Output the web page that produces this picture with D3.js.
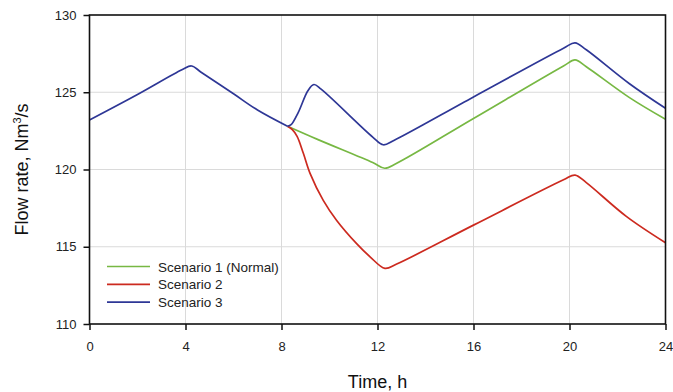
<!DOCTYPE html>
<html>
<head>
<meta charset="utf-8">
<script src="https://cdn.jsdelivr.net/npm/d3@7"></script>
<style>
  body { margin: 0; background: #fff; }
  text { font-family: "Liberation Sans", Arial, sans-serif; }
</style>
</head>
<body>
<svg id="chart" width="673" height="392"></svg>
<script>
// 数据
const xTicks = [0, 4, 8, 12, 16, 20, 24]
const yTicks = [110, 115, 120, 125, 130]

// 三个方案在 8.25 h 之前完全重合
const common_time  = [0, 2, 3.85, 4.25, 4.65, 6, 7, 8.25]
const common_value = [123.2, 124.85, 126.45, 126.7, 126.3, 124.9, 123.85, 122.8]

const s1_time  = [8.25, 9.5, 11.8, 12.3, 12.8, 16, 19.75, 20.23, 20.7, 22.5, 24]
const s1_value = [122.8, 121.95, 120.45, 120.08, 120.4, 123.3, 126.7, 127.09, 126.65, 124.65, 123.25]

const s2_time  = [8.25, 8.45, 8.65, 8.91, 9.19, 9.74, 10.3, 11.13, 11.69, 12.31, 12.8, 16, 19.75, 20.23, 20.7, 22.38, 24]
const s2_value = [122.8, 122.58, 122.15, 121.05, 119.75, 118.0, 116.7, 115.2, 114.35, 113.6, 113.88, 116.4, 119.33, 119.64, 119.15, 116.95, 115.26]

const s3_time  = [8.25, 8.4, 8.7, 9.1, 9.35, 9.65, 11.8, 12.24, 12.7, 16, 19.75, 20.23, 20.7, 22.5, 24]
const s3_value = [122.8, 122.9, 123.7, 125.1, 125.5, 125.2, 122.1, 121.6, 121.9, 124.7, 127.85, 128.2, 127.75, 125.55, 123.96]

const series_names = ["Scenario 1 (Normal)", "Scenario 2", "Scenario 3"]
const series_colors = ["#77b843", "#cc2a1f", "#2e3796"]

const toPoints = (ts, vs) => ts.map((t, i) => ({ t: t, v: vs[i] }))
const common = toPoints(common_time, common_value)
const branches = [
    toPoints(s1_time, s1_value),
    toPoints(s2_time, s2_value),
    toPoints(s3_time, s3_value)
]

const margin = { left: 89.5, right: 665.5, top: 15, bottom: 324 }

const svg = d3.select("#chart")

const x = d3.scaleLinear().domain([0, 24]).range([margin.left, margin.right])
const y = d3.scaleLinear().domain([110, 130]).range([margin.bottom, margin.top])

// 网格
svg.append("g").selectAll("line")
    .data(xTicks.slice(1, -1)).join("line")
    .attr("x1", d => x(d)).attr("x2", d => x(d))
    .attr("y1", margin.top).attr("y2", margin.bottom)
    .attr("stroke", "#dadada").attr("stroke-width", 1)
svg.append("g").selectAll("line")
    .data(yTicks.slice(1, -1)).join("line")
    .attr("x1", margin.left).attr("x2", margin.right)
    .attr("y1", d => y(d)).attr("y2", d => y(d))
    .attr("stroke", "#dadada").attr("stroke-width", 1)

// 曲线
const line = d3.line().x(d => x(d.t)).y(d => y(d.v)).curve(d3.curveCatmullRom.alpha(0.5))
branches.forEach((s, i) => {
    svg.append("path").datum(s)
        .attr("d", line)
        .attr("fill", "none")
        .attr("stroke", series_colors[i])
        .attr("stroke-width", 1.7)
})
// 公共段最后画，显示为最上层的方案3颜色
svg.append("path").datum(common)
    .attr("d", line)
    .attr("fill", "none")
    .attr("stroke", series_colors[2])
    .attr("stroke-width", 1.7)

// 坐标轴
const xAxis = svg.append("g")
    .attr("transform", `translate(0, ${margin.bottom})`)
    .call(d3.axisBottom(x).tickValues(xTicks).tickSizeOuter(0).tickSize(6).tickPadding(12))
const yAxis = svg.append("g")
    .attr("transform", `translate(${margin.left}, 0)`)
    .call(d3.axisLeft(y).tickValues(yTicks).tickSizeOuter(0).tickSize(6).tickPadding(7))
;[xAxis, yAxis].forEach(g => {
    g.select(".domain").remove()
    g.selectAll("line").attr("stroke", "#111").attr("stroke-width", 1.5)
    g.selectAll("text").attr("font-size", "13px").attr("fill", "#222")
        .style("font-family", "'Liberation Sans', Arial, sans-serif")
})

// 边框
svg.append("rect")
    .attr("x", margin.left).attr("y", margin.top)
    .attr("width", margin.right - margin.left).attr("height", margin.bottom - margin.top)
    .attr("fill", "none").attr("stroke", "#111").attr("stroke-width", 1.6)

// 标题
svg.append("text").text("Time, h")
    .attr("x", (margin.left + margin.right) / 2).attr("y", 388)
    .attr("text-anchor", "middle").attr("font-size", "18px").attr("fill", "#111")

const ylab = svg.append("text")
    .attr("transform", `translate(28, ${(margin.top + margin.bottom) / 2}) rotate(-90)`)
    .attr("text-anchor", "middle").attr("font-size", "18px").attr("fill", "#111")
ylab.append("tspan").text("Flow rate, Nm")
ylab.append("tspan").text("3").attr("font-size", "11px").attr("dy", -7)
ylab.append("tspan").text("/s").attr("dy", 7)

// 图例
const legend = svg.append("g")
series_names.forEach((name, i) => {
    const ly = 266.5 + i * 17.8
    legend.append("line")
        .attr("x1", 107).attr("x2", 150).attr("y1", ly).attr("y2", ly)
        .attr("stroke", series_colors[i]).attr("stroke-width", 1.7)
    legend.append("text").text(name)
        .attr("x", 158).attr("y", ly + 5)
        .attr("font-size", "13.5px").attr("fill", "#222")
})
</script>
</body>
</html>
